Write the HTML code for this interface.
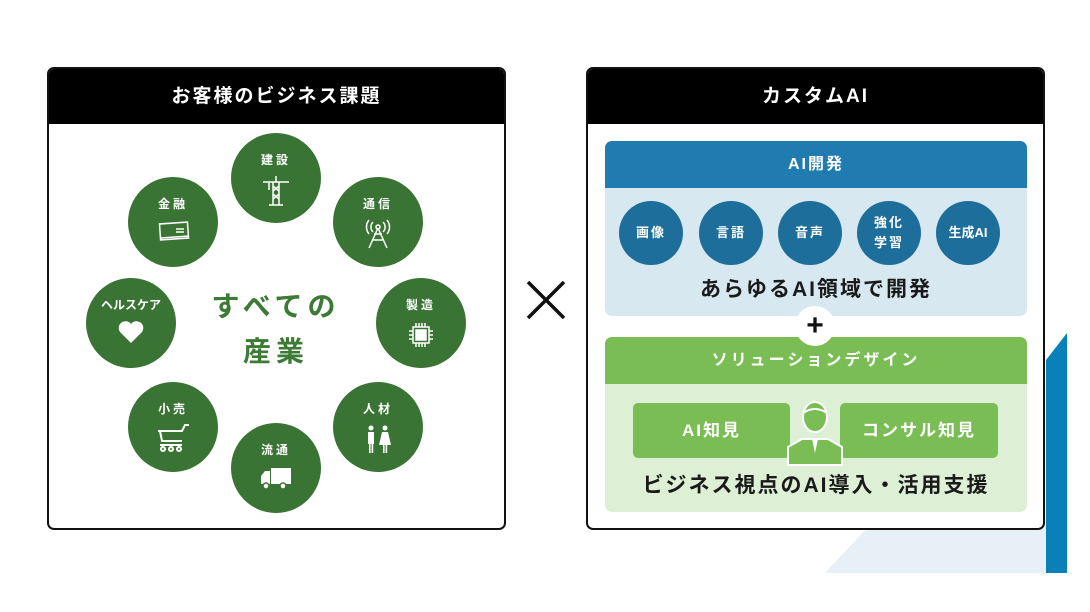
<!DOCTYPE html>
<html><head><meta charset="utf-8"><style>
body{margin:0;width:1090px;height:612px;background:#fff;position:relative;overflow:hidden;font-family:"Liberation Sans","Noto Sans CJK JP",sans-serif;font-weight:bold}
.box{position:absolute;top:67px;width:459px;height:463px;border:2px solid #111;border-radius:7px;box-sizing:border-box;overflow:hidden;background:#fff}
.hd{height:55px;background:#000;color:#fff;font-size:19px;text-align:center;line-height:55px;letter-spacing:2px}
.c{position:absolute;width:90px;height:90px;border-radius:50%;background:#3a7434;color:#fff;text-align:center;font-size:12px;letter-spacing:3px}
.c span{display:block;margin-top:18px}
.c svg{display:block;margin:6px auto 0}
.b{position:absolute;width:64px;height:64px;border-radius:50%;background:#1e6e9b;color:#fff;font-size:13px;text-align:center;line-height:64px;letter-spacing:2px}
.ab{position:absolute;color:#fff;font-size:17px;text-align:center;background:#7bbd55;border-radius:5px;line-height:55px;letter-spacing:2px}
</style></head><body>
<svg style="position:absolute;left:0;top:0" width="1090" height="612">
<polygon points="825,573 1046,573 1046,525 870,525" fill="#e6f0f6"/>
<polygon points="1046,360 1067,333 1067,573 1046,573" fill="#0a80b8"/>
<path d="M528,282 L564,318 M564,282 L528,318" stroke="#111" stroke-width="3.5"/>
</svg>
<div class="box" style="left:47px">
<div class="hd">お客様のビジネス課題</div>
</div>
<div class="c" style="left:231px;top:133px"><span>建設</span><svg width="30" height="32" viewBox="0 0 30 32" fill="none" stroke="#fff" stroke-width="1.5"><path d="M12 31V8h6v23M12 12l6 5M18 12l-6 5M12 20l6 5M18 20l-6 5M2 8h26M8 8v8M15 2v6"/><path d="M8 31h14"/></svg></div>
<div class="c" style="left:333px;top:177px"><span>通信</span><svg width="30" height="32" viewBox="0 0 30 32" fill="none" stroke="#fff" stroke-width="1.5"><path d="M15 10L6 30M15 10l9 20M9 22h12M11 16h8"/><circle cx="15" cy="9" r="2"/><path d="M10 4a7 7 0 000 10M20 4a7 7 0 010 10M6 2a11 11 0 000 14M24 2a11 11 0 010 14"/></svg></div>
<div class="c" style="left:376px;top:278px"><span>製造</span><svg width="30" height="32" viewBox="0 0 30 32" fill="none" stroke="#fff" stroke-width="1.5"><rect x="7" y="8" width="16" height="16"/><rect x="10" y="11" width="10" height="10" fill="#fff"/><path d="M10 4v4M13 4v4M16 4v4M19 4v4M10 24v4M13 24v4M16 24v4M19 24v4M3 12h4M3 16h4M3 20h4M23 12h4M23 16h4M23 20h4"/></svg></div>
<div class="c" style="left:333px;top:382px"><span>人材</span><svg width="30" height="32" viewBox="0 0 30 32" fill="#fff"><circle cx="8" cy="5" r="2.5"/><rect x="5" y="9" width="6" height="12"/><rect x="6" y="20" width="1.6" height="10"/><rect x="8.6" y="20" width="1.6" height="10"/><circle cx="22" cy="5" r="2.5"/><polygon points="19,9 25,9 28,22 16,22"/><rect x="20" y="21" width="1.6" height="9"/><rect x="22.6" y="21" width="1.6" height="9"/></svg></div>
<div class="c" style="left:231px;top:423px"><span>流通</span><svg width="34" height="28" viewBox="0 0 34 28" fill="#fff"><rect x="12" y="4" width="20" height="16"/><path d="M2 20v-8l4-5h5v13z"/><circle cx="7" cy="22" r="3" stroke="#3a7434" stroke-width="1.5"/><circle cx="24" cy="22" r="3" stroke="#3a7434" stroke-width="1.5"/></svg></div>
<div class="c" style="left:128px;top:382px"><span>小売</span><svg width="34" height="30" viewBox="0 0 34 30" fill="none" stroke="#fff" stroke-width="2"><path d="M2 8h24l3-6h4M4 8l2 10h20M4 22h22"/><circle cx="7" cy="26" r="2"/><circle cx="15" cy="26" r="2"/><circle cx="23" cy="26" r="2"/></svg></div>
<div class="c" style="left:86px;top:278px"><span style="letter-spacing:0">ヘルスケア</span><svg width="28" height="26" viewBox="0 0 28 26" fill="#fff"><path d="M14 24L3 13a6 6 0 0111-8 6 6 0 0111 8z"/></svg></div>
<div class="c" style="left:128px;top:177px"><span>金融</span><svg width="34" height="30" viewBox="0 0 34 30" fill="none" stroke="#fff" stroke-width="1.5"><rect x="4" y="5" width="28" height="16" transform="rotate(-4 18 13)"/><path d="M5 20l28-2M20 11h8M20 14h8" /></svg></div>
<div style="position:absolute;left:191px;top:284px;width:170px;text-align:center;color:#3c7a35;font-size:28px;line-height:45px;letter-spacing:5px">すべての<br>産業</div>

<div class="box" style="left:586px">
<div class="hd">カスタムAI</div>
</div>
<div style="position:absolute;left:605px;top:141px;width:422px;height:175px;background:#d8e8f1;border-radius:7px;overflow:hidden"><div style="height:47px;background:#1f7bb0;color:#fff;text-align:center;line-height:47px;font-size:16px;letter-spacing:2px">AI開発</div></div>
<div class="b" style="left:619px;top:201px">画像</div>
<div class="b" style="left:699px;top:201px">言語</div>
<div class="b" style="left:778px;top:201px">音声</div>
<div class="b" style="left:857px;top:201px;line-height:20px;padding-top:12px;box-sizing:border-box">強化<br>学習</div>
<div class="b" style="left:936px;top:201px;letter-spacing:0">生成AI</div>
<div style="position:absolute;left:605px;top:273px;width:422px;text-align:center;font-size:21px;color:#1a1a1a;letter-spacing:2px">あらゆるAI領域で開発</div>
<div style="position:absolute;left:605px;top:337px;width:422px;height:175px;background:#ddefd5;border-radius:7px;overflow:hidden"><div style="height:47px;background:#7bbd55;color:#fff;text-align:center;line-height:47px;font-size:16px;letter-spacing:3px">ソリューションデザイン</div></div>
<div style="position:absolute;left:795px;top:306px;width:40px;height:40px;border-radius:50%;background:#fff;text-align:center;line-height:40px;font-size:30px;color:#111">+</div>
<div class="ab" style="left:633px;top:403px;width:157px;height:55px">AI知見</div>
<div class="ab" style="left:840px;top:403px;width:158px;height:55px">コンサル知見</div>
<svg style="position:absolute;left:785px;top:395px" width="60" height="72" viewBox="0 0 60 72"><path d="M3 70V52l14-8h26l14 8v18z" fill="#7bbd55" stroke="#fff" stroke-width="2"/><ellipse cx="30" cy="22" rx="12" ry="15" fill="#7bbd55" stroke="#fff" stroke-width="2"/><path d="M18 18q12-8 24 0" stroke="#fff" stroke-width="2" fill="none"/><path d="M27 44l3 14 3-14z" fill="#fff"/></svg>
<div style="position:absolute;left:605px;top:469px;width:422px;text-align:center;font-size:21px;color:#1a1a1a;letter-spacing:2px">ビジネス視点のAI導入・活用支援</div>
</body></html>
